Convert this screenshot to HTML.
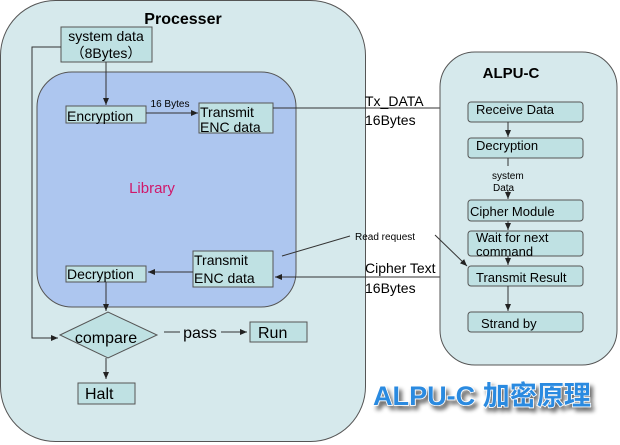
<!DOCTYPE html>
<html><head><meta charset="utf-8"><style>
html,body{margin:0;padding:0;background:#fff;}
svg{display:block;}
text{font-family:"Liberation Sans",Arial,sans-serif;fill:#000;}
</style></head><body>
<svg width="620" height="445" viewBox="0 0 620 445" xmlns="http://www.w3.org/2000/svg">
<defs>
<marker id="a" markerWidth="8" markerHeight="8" refX="7" refY="4" orient="auto" markerUnits="userSpaceOnUse">
<path d="M0,1 L7,4 L0,7 z" fill="#222"/></marker>
<filter id="sh" x="-10%" y="-20%" width="130%" height="160%">
<feGaussianBlur in="SourceAlpha" stdDeviation="2"/><feOffset dx="3" dy="4"/>
<feComponentTransfer><feFuncA type="linear" slope="0.6"/></feComponentTransfer>
<feMerge><feMergeNode/><feMergeNode in="SourceGraphic"/></feMerge></filter>
</defs>
<!-- Processer -->
<rect x="0.5" y="0.5" width="365" height="441" rx="55" fill="#d6e9ec" stroke="#555" stroke-width="1"/>
<text x="183" y="24" font-size="16" font-weight="bold" text-anchor="middle">Processer</text>
<rect x="37" y="72" width="259" height="235" rx="35" fill="#adc6ef" stroke="#555"/>
<text x="152" y="193" font-size="15" text-anchor="middle" style="fill:#d0186a">Library</text>
<!-- system data -->
<rect x="61" y="27" width="91" height="35" fill="#bfe1e3" stroke="#555"/>
<text x="106" y="41" font-size="14" text-anchor="middle">system data</text>
<text x="106" y="58" font-size="14" text-anchor="middle">（8Bytes）</text>
<line x1="106" y1="62" x2="106" y2="105" stroke="#333" marker-end="url(#a)"/>
<polyline points="61,47 32,47 32,338 58,338" fill="none" stroke="#333" marker-end="url(#a)"/>
<rect x="66" y="106" width="80" height="17" fill="#bfe1e3" stroke="#555"/>
<text x="67" y="121" font-size="14">Encryption</text>
<line x1="146" y1="113" x2="198" y2="113" stroke="#333" marker-end="url(#a)"/>
<text x="170" y="107" font-size="10" text-anchor="middle">16 Bytes</text>
<rect x="199" y="103" width="74" height="30" fill="#bfe1e3" stroke="#555"/>
<text x="200" y="117" font-size="14">Transmit</text>
<text x="200" y="132" font-size="14">ENC data</text>
<line x1="273" y1="108" x2="440" y2="108" stroke="#333"/>
<text x="365" y="106" font-size="14">Tx_DATA</text>
<text x="365" y="125" font-size="14">16Bytes</text>
<!-- bottom transmit -->
<rect x="193" y="251" width="80" height="36" fill="#bfe1e3" stroke="#555"/>
<text x="194" y="265" font-size="14">Transmit</text>
<text x="194" y="283" font-size="14">ENC data</text>
<line x1="193" y1="272" x2="148" y2="272" stroke="#333" marker-end="url(#a)"/>
<rect x="66" y="266" width="80" height="16" fill="#bfe1e3" stroke="#555"/>
<text x="67" y="279" font-size="14">Decryption</text>
<line x1="106" y1="282" x2="106" y2="311" stroke="#333" marker-end="url(#a)"/>
<polygon points="60,335 108,312 157,335 108,358" fill="#bfe1e3" stroke="#555"/>
<text x="106" y="343" font-size="16" text-anchor="middle">compare</text>
<line x1="164" y1="332" x2="180" y2="332" stroke="#333"/>
<text x="200" y="338" font-size="16" text-anchor="middle">pass</text>
<line x1="221" y1="332" x2="247" y2="332" stroke="#333" marker-end="url(#a)"/>
<rect x="250" y="322" width="57" height="20" fill="#bfe1e3" stroke="#555"/>
<text x="258" y="338" font-size="16">Run</text>
<line x1="106" y1="358" x2="106" y2="379" stroke="#333" marker-end="url(#a)"/>
<rect x="78" y="383" width="57" height="21" fill="#bfe1e3" stroke="#555"/>
<text x="85" y="399" font-size="16">Halt</text>
<!-- cipher text -->
<line x1="440" y1="277" x2="275" y2="277" stroke="#333" marker-end="url(#a)"/>
<text x="365" y="273" font-size="14">Cipher Text</text>
<text x="365" y="293" font-size="14">16Bytes</text>
<text x="355" y="240" font-size="10">Read request</text>
<line x1="282" y1="256" x2="350" y2="236" stroke="#333"/>
<!-- ALPU-C -->
<rect x="440" y="52" width="177" height="313" rx="35" fill="#d6e9ec" stroke="#555"/>
<line x1="435" y1="235" x2="467" y2="266" stroke="#333" marker-end="url(#a)"/>
<text x="511" y="78" font-size="15" font-weight="bold" text-anchor="middle">ALPU-C</text>
<g fill="#bfe1e3" stroke="#555">
<rect x="468" y="102" width="115" height="20" rx="3"/>
<rect x="468" y="138" width="115" height="20" rx="3"/>
<rect x="468" y="200" width="115" height="21" rx="3"/>
<rect x="468" y="231" width="115" height="25" rx="3"/>
<rect x="468" y="266" width="115" height="20" rx="3"/>
<rect x="468" y="312" width="115" height="20" rx="3"/>
</g>
<g stroke="#333">
<line x1="508" y1="122" x2="508" y2="137" marker-end="url(#a)"/>
<line x1="508" y1="158" x2="508" y2="166"/>
<line x1="508" y1="190" x2="508" y2="199" marker-end="url(#a)"/>
<line x1="508" y1="221" x2="508" y2="230" marker-end="url(#a)"/>
<line x1="508" y1="256" x2="508" y2="265" marker-end="url(#a)"/>
<line x1="508" y1="286" x2="508" y2="311" marker-end="url(#a)"/>
</g>
<g font-size="13">
<text x="476" y="114">Receive Data</text>
<text x="476" y="150">Decryption</text>
<text x="470" y="216">Cipher Module</text>
<text x="476" y="242">Wait for next</text>
<text x="476" y="256">command</text>
<text x="476" y="282">Transmit Result</text>
<text x="481" y="328">Strand by</text>
</g>
<text x="492" y="179" font-size="10">system</text>
<text x="493" y="191" font-size="10">Data</text>
<!-- title -->
<text x="373" y="405" font-size="27" font-weight="bold" filter="url(#sh)" style="fill:#2a8ae0;stroke:#fff;stroke-width:1.5;paint-order:stroke;font-family:'Liberation Sans','Noto Sans CJK SC',sans-serif" textLength="218" lengthAdjust="spacingAndGlyphs">ALPU-C 加密原理</text>
</svg>
</body></html>
